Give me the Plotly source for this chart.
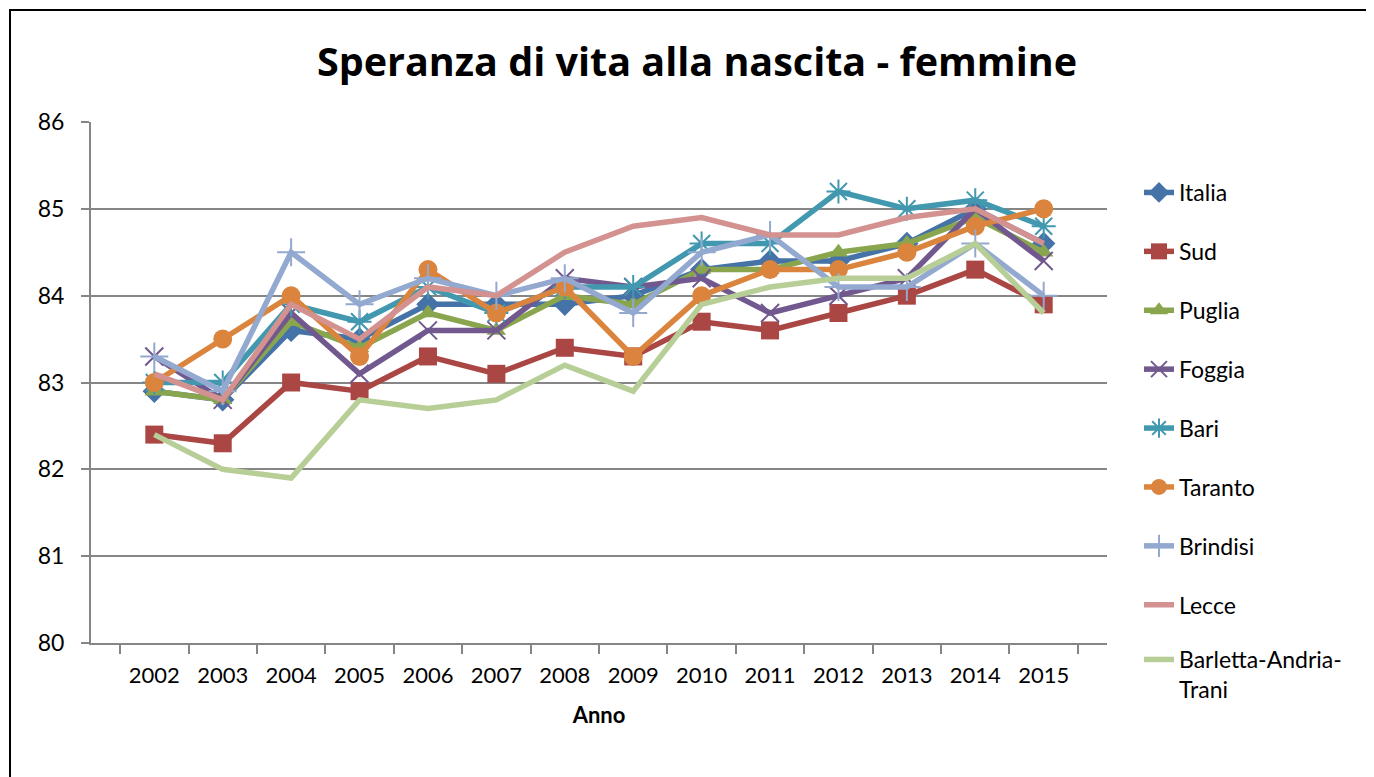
import plotly.graph_objects as go

years = ["2002", "2003", "2004", "2005", "2006", "2007", "2008", "2009",
         "2010", "2011", "2012", "2013", "2014", "2015"]

italia   = [82.9, 82.8, 83.6, 83.5, 83.9, 83.9, 83.9, 84.0, 84.3, 84.4, 84.4, 84.6, 85.0, 84.6]
sud      = [82.4, 82.3, 83.0, 82.9, 83.3, 83.1, 83.4, 83.3, 83.7, 83.6, 83.8, 84.0, 84.3, 83.9]
puglia   = [82.9, 82.8, 83.7, 83.4, 83.8, 83.6, 84.0, 83.9, 84.3, 84.3, 84.5, 84.6, 84.9, 84.5]
foggia   = [83.3, 82.8, 83.8, 83.1, 83.6, 83.6, 84.2, 84.1, 84.2, 83.8, 84.0, 84.2, 85.0, 84.4]
bari     = [83.0, 83.0, 83.9, 83.7, 84.1, 83.8, 84.1, 84.1, 84.6, 84.6, 85.2, 85.0, 85.1, 84.8]
taranto  = [83.0, 83.5, 84.0, 83.3, 84.3, 83.8, 84.1, 83.3, 84.0, 84.3, 84.3, 84.5, 84.8, 85.0]
brindisi = [83.3, 82.9, 84.5, 83.9, 84.2, 84.0, 84.2, 83.8, 84.5, 84.7, 84.1, 84.1, 84.6, 84.0]
lecce    = [83.1, 82.8, 83.9, 83.5, 84.1, 84.0, 84.5, 84.8, 84.9, 84.7, 84.7, 84.9, 85.0, 84.6]
bat      = [82.4, 82.0, 81.9, 82.8, 82.7, 82.8, 83.2, 82.9, 83.9, 84.1, 84.2, 84.2, 84.6, 83.8]

series = [
    ("Italia", italia, "#4572A7", dict(symbol="diamond", size=18)),
    ("Sud", sud, "#AA4643", dict(symbol="square", size=18)),
    ("Puglia", puglia, "#89A54E", dict(symbol="triangle-up", size=17)),
    ("Foggia", foggia, "#71588F", dict(symbol="x-thin-open", size=18, line=dict(width=2))),
    ("Bari", bari, "#4198AF", dict(symbol="asterisk-open", size=20, line=dict(width=2))),
    ("Taranto", taranto, "#DB843D", dict(symbol="circle", size=19)),
    ("Brindisi", brindisi, "#93A9CF", dict(symbol="cross-thin-open", size=20, line=dict(width=2))),
    ("Lecce", lecce, "#D39290", None),
    ("Barletta-Andria-<br>Trani", bat, "#B7CE97", None),
]

FONT = "Lato"
# page has an 8px body margin; figure drawn at (8, 8)
OFF = 8
W_FIG, H_FIG = 1374 - OFF, 777 - OFF
L, T = 91 - OFF, 122 - OFF
R_EDGE, B_EDGE = 1107 - OFF, 643 - OFF
PW, PH = R_EDGE - L, B_EDGE - T


def px_x(px):
    return (px - OFF - L) / PW


def px_y(py):
    return (B_EDGE - (py - OFF)) / PH


fig = go.Figure()
for i, (name, vals, color, mk) in enumerate(series):
    if mk is not None:
        m = dict(mk)
        m["color"] = color
        if "line" in m:
            m["line"] = dict(width=m["line"]["width"], color=color)
        mode = "lines+markers"
    else:
        m = None
        mode = "lines"
    fig.add_trace(go.Scatter(
        x=years, y=vals, name=name, mode=mode,
        line=dict(color=color, width=5.5),
        marker=m, legendgroup=f"g{i}",
        legend="legend2" if i == len(series) - 1 else "legend",
    ))

leg_common = dict(font=dict(family=FONT, size=23, color="black"),
                  tracegroupgap=26, bgcolor="rgba(0,0,0,0)", xanchor="left",
                  yanchor="top", x=px_x(1139))

fig.update_layout(
    width=W_FIG, height=H_FIG,
    paper_bgcolor="white", plot_bgcolor="white",
    margin=dict(l=L, r=W_FIG - R_EDGE, t=T, b=H_FIG - B_EDGE),
    title=dict(text="<b>Speranza di vita alla nascita - femmine</b>",
               x=(697 - OFF) / W_FIG, xanchor="center",
               y=1 - (62 - OFF) / H_FIG, yanchor="middle",
               font=dict(family="Open Sans", size=39.5, color="black")),
    font=dict(family=FONT, size=22, color="black"),
    legend=dict(y=px_y(171), **leg_common),
    legend2=dict(y=px_y(638), valign="top", **leg_common),
    xaxis=dict(type="category", showline=True, linecolor="#868686", linewidth=2,
               ticks="outside", tickson="boundaries", ticklen=9, tickcolor="#868686",
               tickwidth=2, showgrid=False, zeroline=False, ticklabelstandoff=12,
               tickfont=dict(family=FONT, size=22, color="black"),
               title=dict(text="<b>Anno</b>", font=dict(family=FONT, size=22, color="black"),
                          standoff=20)),
    yaxis=dict(range=[80, 86], dtick=1, showline=True, linecolor="#868686", linewidth=2,
               ticks="outside", ticklen=8, tickcolor="#868686", tickwidth=2,
               showgrid=True, gridcolor="#868686", gridwidth=2, zeroline=False,
               ticklabelstandoff=12,
               tickfont=dict(family=FONT, size=23, color="black")),
    shapes=[dict(type="rect", xref="paper", yref="paper",
                 x0=px_x(10), x1=px_x(1400),
                 y0=px_y(800), y1=px_y(10),
                 line=dict(color="black", width=2), layer="below")],
)

fig.write_html("out.html")
